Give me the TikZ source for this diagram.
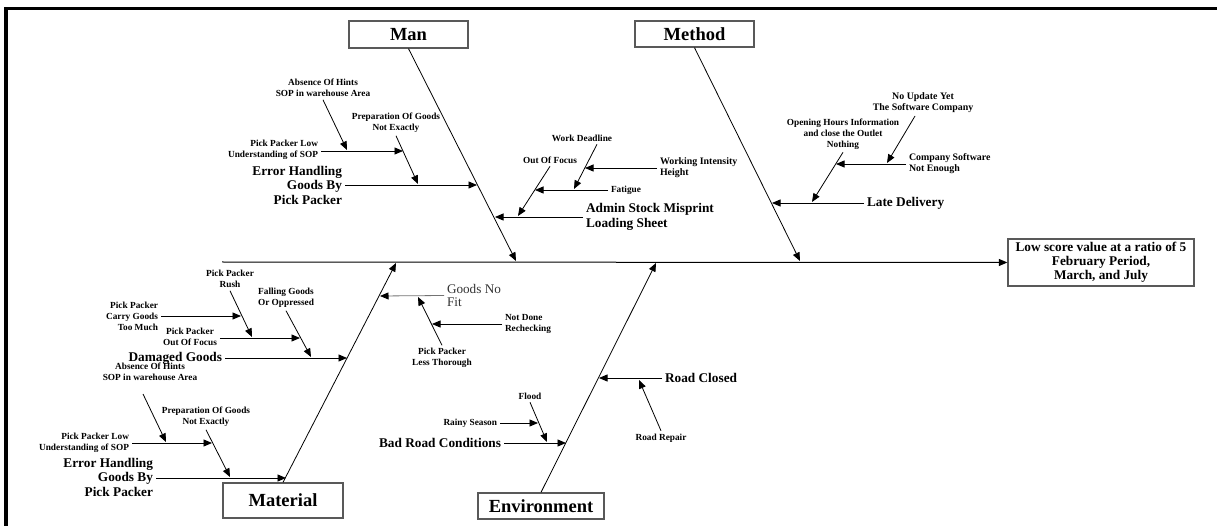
\documentclass[tikz,border=0pt]{standalone}
\usepackage{fontspec}
\setmainfont{Liberation Serif}
\usetikzlibrary{arrows.meta}
\begin{document}
\begin{tikzpicture}[x=1pt,y=-1pt,
  sm/.style={font=\fontsize{9.3}{11}\selectfont\bfseries, inner sep=0pt, outer sep=3pt},
  smb/.style={font=\fontsize{9.9}{11}\selectfont\bfseries, inner sep=0pt, outer sep=3pt},
  bg/.style={font=\fontsize{13.3}{14.5}\selectfont\bfseries, inner sep=0pt, outer sep=3pt},
  cat/.style={draw=black!65, line width=1.3pt, inner sep=0pt, font=\fontsize{18.5}{20}\selectfont\bfseries},
  arr/.style={-{Triangle[length=8.5pt,width=7pt,color=black]}, line width=0.8pt},
]
\useasboundingbox (0,0) rectangle (1217,526);
% frame
\draw[line width=3.3pt, line join=miter] (6,526) -- (6,8.3) -- (1217,8.3);

% head and spine
\coordinate (sp0) at (222,262);
\node[draw=black!65, line width=1.3pt, minimum width=186pt, minimum height=47pt, align=center,
      font=\fontsize{13.3}{14}\selectfont\bfseries, inner sep=0pt] (head) at (1101,262.5)
      {Low score value at a ratio of 5\\February Period,\\March, and July};
\draw[arr, line width=1pt] (sp0) -- (head.west);

% categories
\node[cat, minimum width=119pt, minimum height=27pt] (man) at (408.5,34.5) {Man};
\node[cat, minimum width=119pt, minimum height=26pt] (method) at (694.5,34) {Method};
\node[cat, minimum width=120pt, minimum height=35pt] (material) at (283,500.5) {Material};
\node[cat, minimum width=126pt, minimum height=26pt] (env) at (541,506) {Environment};

\coordinate (manE) at (516,261);
\coordinate (metE) at (800,261);
\coordinate (matE) at (396,263);
\coordinate (envE) at (656,263);
\draw[arr] (man.south) -- (manE);
\draw[arr] (method.south) -- (metE);
\draw[arr] (material.north) -- (matE);
\draw[arr] (env.north) -- (envE);

% ---- Man, left side
\node[bg, align=right, anchor=east] (eh1) at (345,185) {Error Handling\\Goods By\\Pick Packer};
\coordinate (manA) at (477,185);
\draw[arr] (eh1.east |- manA) -- (manA);
\node[sm, align=center] (prep1) at (396,123) {Preparation Of Goods\\Not Exactly};
\coordinate (p1E) at (418,184);
\draw[arr] (prep1.south) -- (p1E);
\node[sm, align=right, anchor=east] (pl1) at (321,150) {Pick Packer Low\\Understanding of SOP};
\coordinate (pl1E) at (403,151);
\draw[arr] (pl1.east |- pl1E) -- (pl1E);
\node[sm, align=center] (ab1) at (323,88) {Absence Of Hints\\SOP in warehouse Area};
\coordinate (ab1E) at (347,150);
\draw[arr] (ab1.south) -- (ab1E);

% ---- Man, right side
\node[bg, align=left, anchor=west] (adm) at (583,217) {Admin Stock Misprint\\Loading Sheet};
\coordinate (manB) at (495,217);
\draw[arr] (adm.west) -- (manB);
\node[sm] (oof) at (550,160) {Out Of Focus};
\coordinate (oofE) at (518,216);
\draw[arr] (oof.south) -- (oofE);
\node[sm, anchor=west] (fat) at (608,190) {Fatigue};
\coordinate (fatE) at (535,190);
\draw[arr] (fat.west) -- (fatE);
\node[sm] (wd) at (582,138) {Work Deadline};
\coordinate (wdS) at (597,144);
\coordinate (wdE) at (574,189);
\draw[arr] (wdS |- wd.south) -- (wdE);
\node[smb, align=left, anchor=west] (wi) at (657,168) {Working Intensity\\Height};
\coordinate (wiE) at (585,168);
\draw[arr] (wi.west) -- (wiE);

% ---- Method
\node[bg, anchor=west] (ld) at (864,203) {Late Delivery};
\coordinate (metA) at (772,203);
\draw[arr] (ld.west) -- (metA);
\node[sm, align=center] (op) at (843,134) {Opening Hours Information\\and close the Outlet\\Nothing};
\coordinate (opE) at (812,202);
\draw[arr] (op.south) -- (opE);
\node[smb, align=left, anchor=west] (cs) at (906,164) {Company Software\\Not Enough};
\coordinate (csE) at (836,164);
\draw[arr] (cs.west) -- (csE);
\node[smb, align=center] (nu) at (923,103) {No Update Yet\\The Software Company};
\coordinate (nuS) at (915,115);
\coordinate (nuE) at (887,163);
\draw[arr] (nuS |- nu.south) -- (nuE);

% ---- Material, left side
\node[bg, anchor=east] (dg) at (225,358) {Damaged Goods};
\coordinate (matA) at (347,358);
\draw[arr] (dg.east) -- (matA);
\node[sm, align=center] (fg) at (286,298) {Falling Goods\\Or Oppressed};
\coordinate (fgE) at (311,357);
\draw[arr] (fg.south) -- (fgE);
\node[sm, align=center] (ppf) at (190,337) {Pick Packer\\Out Of Focus};
\coordinate (ppfE) at (300,338);
\draw[arr] (ppf.east |- ppfE) -- (ppfE);
\node[sm, align=center] (rush) at (230,279) {Pick Packer\\Rush};
\coordinate (rushE) at (252,337);
\draw[arr] (rush.south) -- (rushE);
\node[sm, align=right, anchor=east] (cg) at (161,316) {Pick Packer\\Carry Goods\\Too Much};
\coordinate (cgE) at (241,316);
\draw[arr] (cg.east) -- (cgE);

\node[bg, align=right, anchor=east] (eh2) at (156,477) {Error Handling\\Goods By\\Pick Packer};
\coordinate (matB) at (286,478);
\draw[arr] (eh2.east |- matB) -- (matB);
\node[sm, align=center] (pr2) at (206,417) {Preparation Of Goods\\Not Exactly};
\coordinate (pr2E) at (230,477);
\draw[arr] (pr2.south) -- (pr2E);
\node[sm, align=right, anchor=east] (pl2) at (132,443) {Pick Packer Low\\Understanding of SOP};
\coordinate (pl2E) at (212,443);
\draw[arr] (pl2.east) -- (pl2E);
\node[sm, align=center] (ab2) at (150,372) {Absence Of Hints\\SOP in warehouse Area};
\coordinate (ab2S) at (143,394);
\coordinate (ab2E) at (166,442);
\draw[arr] (ab2S) -- (ab2E);

% ---- Material, right side
\node[font=\fontsize{13.2}{13}\selectfont, text=black!80, align=left, anchor=west,
      inner sep=0pt, outer sep=3pt] (gnf) at (444,295.5) {Goods No\\Fit};
\coordinate (matC) at (380,296);
\draw[arr, draw=black!55] (gnf.west) -- (matC);
\node[sm, align=center] (lt) at (442,358) {Pick Packer\\Less Thorough};
\coordinate (ltE) at (418,297);
\draw[arr] (lt.north) -- (ltE);
\node[sm, align=left, anchor=west] (nd) at (502,324) {Not Done\\Rechecking};
\coordinate (ndE) at (432,324);
\draw[arr] (nd.west) -- (ndE);

% ---- Environment
\node[bg, anchor=east] (brc) at (504,443) {Bad Road Conditions};
\coordinate (envA) at (566,443);
\draw[arr] (brc.east) -- (envA);
\node[sm] (fl) at (530,396) {Flood};
\coordinate (flE) at (547,442);
\draw[arr] (fl.south) -- (flE);
\node[sm, anchor=east] (rs) at (500,423) {Rainy Season};
\coordinate (rsE) at (538,423);
\draw[arr] (rs.east) -- (rsE);
\node[bg, anchor=west] (rc) at (662,378) {Road Closed};
\coordinate (envB) at (599,378);
\draw[arr] (rc.west) -- (envB);
\node[sm] (rr) at (661,438) {Road Repair};
\coordinate (rrE) at (639,380);
\draw[arr] (rr.north) -- (rrE);
\end{tikzpicture}
\end{document}
